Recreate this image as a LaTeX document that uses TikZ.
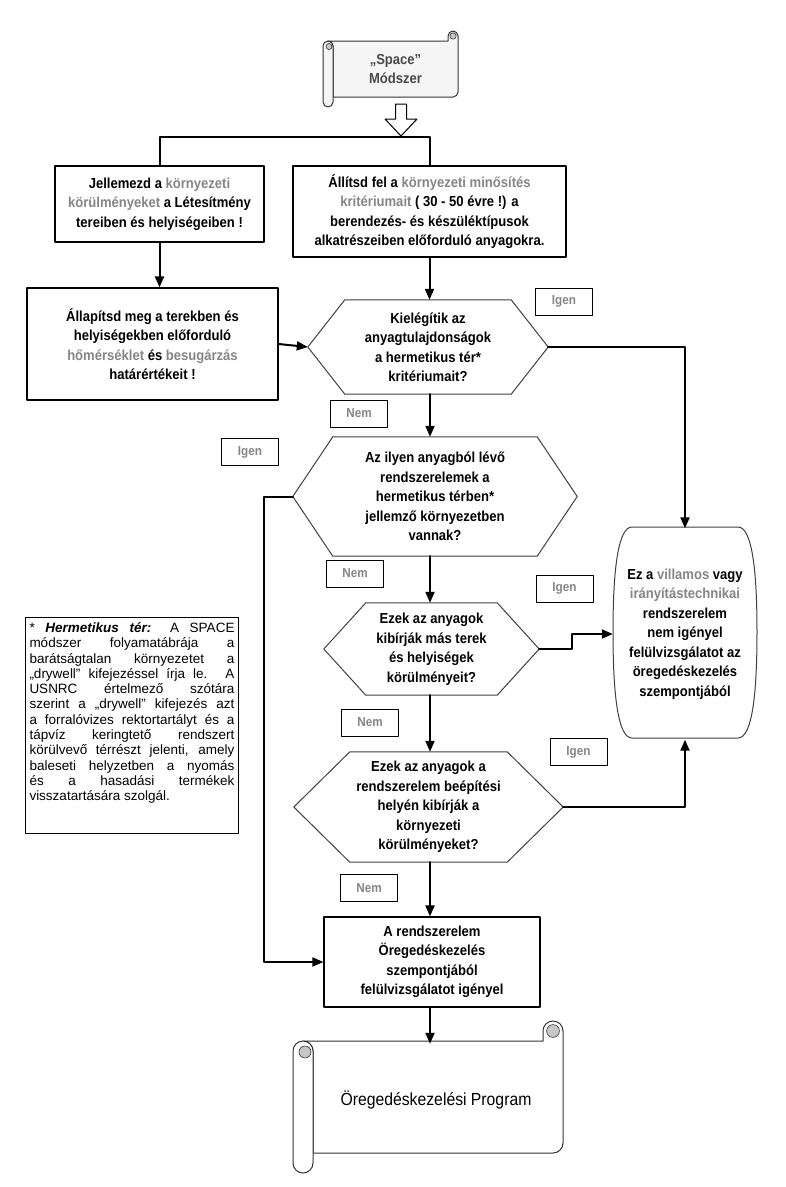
\documentclass[tikz,border=0pt]{standalone}
\usepackage{fontspec}
\setmainfont{Liberation Sans}
\newfontfamily\keskeny{Liberation Sans}[FakeStretch=0.9]
\usetikzlibrary{arrows.meta,calc}
\definecolor{halvany}{HTML}{858585}
\definecolor{sotet}{HTML}{4A4A4A}
\newcommand{\kiemel}[1]{\textcolor{halvany}{#1}}
\newcommand{\fobetu}{\keskeny\bfseries\fontsize{14.5}{19.5}\selectfont}
\newcommand{\cimkebetu}{\keskeny\bfseries\fontsize{13}{15}\selectfont}
\newcommand{\hatszogvonal}[2]{%
  \draw[hatarvonal] (#1.west) -- ($(#1.north west)+(#2,0)$) -- ($(#1.north east)-(#2,0)$)
    -- (#1.east) -- ($(#1.south east)-(#2,0)$) -- ($(#1.south west)+(#2,0)$) -- cycle;}
\newcommand{\tekercs}[6]{%
  \filldraw[fill=#6, draw=black!80, line width=1pt]
    ({#1+#5/2},#2) -- ({#3-#5},#2) -- ({#3-#5},{#2-#5/2})
    arc[start angle=180, end angle=360, radius=#5/2] -- (#3,{#4-#5/2})
    arc[start angle=0, end angle=90, radius=#5/2] -- ({#1+#5},#4) -- ({#1+#5},{#2+#5/2})
    arc[start angle=0, end angle=-90, radius=#5/2] -- cycle;
  \filldraw[fill=#6, draw=black!80, line width=1pt]
    ({#1+#5},{#2+#5/2}) -- ({#1+#5},{#4+#5/2}) arc[start angle=0, end angle=180, radius=#5/2]
    -- (#1,{#2+#5/2}) arc[start angle=180, end angle=360, radius=#5/2] -- cycle;
  \filldraw[fill=gray!45, draw=black!80, line width=0.6pt] ({#1+#5*0.6},{#2+#5*0.55}) circle[radius=#5*0.3];
  \filldraw[fill=gray!45, draw=black!80, line width=0.6pt] ({#3-#5*0.5},{#2-#5*0.5}) circle[radius=#5*0.32];}
\begin{document}
\begin{tikzpicture}[x=1pt, y=-1pt, line cap=round, line join=round,
    doboz/.style={draw, line width=1.2pt, align=center, inner sep=2pt, font=\fobetu},
    hatszog/.style={align=center, inner sep=0pt, font=\fobetu},
    hatarvonal/.style={line width=1pt, draw=black!75},
    cimke/.style={draw, line width=0.8pt, text=halvany, font=\cimkebetu, minimum width=57pt, minimum height=27pt, inner sep=0pt},
    vonal/.style={line width=2pt},
    nyil/.style={line width=2pt, -{Triangle[length=11pt,width=9pt]}},
    jegyzet/.style={draw, line width=1pt, text width=205pt, align=justify, inner xsep=4pt, inner ysep=5pt, font=\fontsize{13.5}{15.3}\selectfont}]
  \useasboundingbox (0,0) rectangle (786,1187);

  \tekercs{323}{41}{458}{97}{10}{gray!8}
  \node[font=\fobetu, text=sotet, align=center] (space) at (395.5,69) {„Space”\\Módszer};
  \draw[line width=1pt, fill=white] (395.5,104) -- (406.5,104) -- (406.5,119) -- (417,119) -- (401,136) -- (385,119) -- (395.5,119) -- cycle;

  \node[doboz, minimum width=209pt, minimum height=76pt] (jellemezd) at (159.5,204)
    {Jellemezd a \kiemel{környezeti}\\\kiemel{körülményeket} a Létesítmény\\tereiben és helyiségeiben !};
  \node[doboz, minimum width=273pt, minimum height=91pt] (allitsd) at (429.5,211.5)
    {Állítsd fel a \kiemel{környezeti minősítés}\\\kiemel{kritériumait} ( 30 - 50 évre !) a\\berendezés- és készüléktípusok\\alkatrészeiben előforduló anyagokra.};
  \node[doboz, minimum width=251pt, minimum height=112pt] (allapitsd) at (152.5,344)
    {Állapítsd meg a terekben és\\helyiségekben előforduló\\\kiemel{hőmérséklet} és \kiemel{besugárzás}\\határértékeit !};

  \node[hatszog, minimum width=240pt, minimum height=94pt] (kielegitik) at (428,347)
    {Kielégítik az\\anyagtulajdonságok\\a hermetikus tér*\\kritériumait?};
  \hatszogvonal{kielegitik}{37}
  \node[hatszog, minimum width=284pt, minimum height=119pt] (ilyen) at (435,496.5)
    {Az ilyen anyagból lévő\\rendszerelemek  a\\hermetikus térben*\\jellemző környezetben\\vannak?};
  \hatszogvonal{ilyen}{40}
  \node[hatszog, minimum width=215pt, minimum height=92pt] (mas) at (431.5,649)
    {Ezek az anyagok\\kibírják más terek\\és helyiségek\\körülményeit?};
  \hatszogvonal{mas}{42}
  \node[hatszog, minimum width=269pt, minimum height=110pt] (beepitesi) at (428.5,807)
    {Ezek az anyagok a\\rendszerelem beépítési\\helyén kibírják a\\környezeti\\körülményeket?};
  \hatszogvonal{beepitesi}{56}

  \node[doboz, minimum width=216pt, minimum height=90pt] (igenyel) at (432,962)
    {A rendszerelem\\Öregedéskezelés\\szempontjából\\felülvizsgálatot igényel};

  \draw[hatarvonal, fill=white] (632,527) -- (738,527) .. controls (752,527) and (757,570) .. (757,632)
    .. controls (757,695) and (752,738) .. (738,738) -- (632,738) .. controls (618,738) and (613,695) .. (613,632)
    .. controls (613,570) and (618,527) .. (632,527) -- cycle;
  \node[hatszog, minimum width=144pt, minimum height=211pt] (nincs) at (685,634)
    {Ez a \kiemel{villamos} vagy\\\kiemel{irányítástechnikai}\\rendszerelem\\nem igényel\\felülvizsgálatot az\\öregedéskezelés\\szempontjából};

  \tekercs{293}{1041}{563}{1153}{20}{white}
  \node[minimum width=250pt, minimum height=112pt, font=\keskeny\fontsize{17.5}{20}\selectfont] (program) at (436,1100)
    {Öregedéskezelési Program};

  \node[jegyzet, anchor=north west] (megjegyzes) at (25,617)
    {\noindent * \textbf{\textit{Hermetikus tér:}} A SPACE\linebreak
     módszer folyamatábrája a\linebreak
     barátságtalan környezetet a\linebreak
     „drywell” kifejezéssel írja le. A\linebreak
     USNRC értelmező szótára\linebreak
     szerint a „drywell” kifejezés azt\linebreak
     a forralóvizes rektortartályt és a\linebreak
     tápvíz keringtető rendszert\linebreak
     körülvevő térrészt jelenti, amely\linebreak
     baleseti helyzetben a nyomás\linebreak
     és a hasadási termékek\linebreak
     visszatartására szolgál.\par\noindent\rule{0pt}{24pt}};

  \foreach \nev/\szoveg/\x/\y in {igen1/Igen/564/301.5, nem1/Nem/359/413.5, igen2/Igen/250/452, nem2/Nem/355/573.5,
      igen3/Igen/564.5/588.5, nem3/Nem/370/722.5, igen4/Igen/578.5/752, nem4/Nem/369/888}
    \node[cimke] (\nev) at (\x,\y) {\szoveg};

  \coordinate (elagazas) at (300,137);
  \coordinate (tengely) at (430,0);
  \coordinate (kerules) at (264,962);
  \draw[vonal] (jellemezd.north) |- (elagazas) -| (allitsd.north);
  \draw[nyil] (jellemezd.south) -- (jellemezd.south |- allapitsd.north);
  \draw[nyil] (allitsd.south) -- (allitsd.south |- kielegitik.north);
  \draw[nyil] (allapitsd.east) -- (kielegitik.west);
  \draw[nyil] (kielegitik.east) -| (nincs.north);
  \draw[nyil] (kielegitik.south -| tengely) -- (ilyen.north -| tengely);
  \draw[nyil] (ilyen.west) -| (kerules) -- (igenyel.west);
  \draw[nyil] (ilyen.south -| tengely) -- (mas.north -| tengely);
  \draw[nyil] (mas.east) -- ++(33,0) |- (nincs.west);
  \draw[nyil] (mas.south -| tengely) -- (beepitesi.north -| tengely);
  \draw[nyil] (beepitesi.east) -| (nincs.south);
  \draw[nyil] (beepitesi.south -| tengely) -- (igenyel.north -| tengely);
  \draw[nyil] (igenyel.south -| tengely) -- (program.north -| tengely);
\end{tikzpicture}
\end{document}
